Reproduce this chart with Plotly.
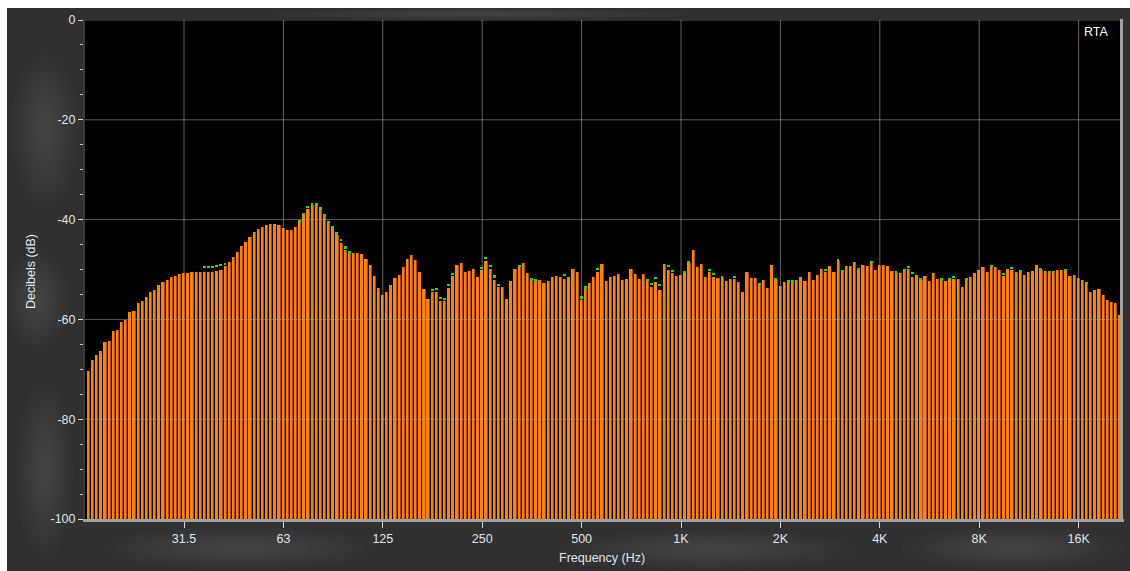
import numpy as np
import plotly.graph_objects as go

# 1/24-octave RTA levels (dB), one value per band, lowest band first (band 143 = 1 kHz)
LEVELS_DB = [
    -70.3, -68.1, -67.2, -66.3, -64.5, -64.3, -62.3, -62.1, -60.6, -60.1,
    -58.6, -58.4, -56.8, -56.4, -55.6, -54.6, -54.2, -53.1, -52.6, -52.2,
    -51.6, -51.3, -50.9, -50.7, -50.7, -50.5, -50.5, -50.5, -50.5, -50.5,
    -50.4, -50.3, -50.0, -49.3, -48.4, -47.5, -46.4, -45.3, -44.4, -43.4,
    -42.5, -41.8, -41.4, -41.1, -40.9, -40.9, -41.1, -41.6, -42.1, -42.1,
    -41.4, -40.4, -39.0, -37.8, -37.1, -37.1, -37.8, -39.0, -40.4, -41.7,
    -43.0, -44.6, -46.0, -46.6, -46.7, -46.7, -46.9, -47.8, -49.1, -51.3,
    -53.7, -55.2, -54.6, -53.1, -51.8, -51.1, -49.5, -47.8, -47.1, -48.0,
    -50.4, -54.0, -55.9, -54.6, -54.6, -56.3, -56.3, -53.7, -51.3, -49.0,
    -48.7, -50.4, -50.2, -49.8, -51.6, -50.0, -48.2, -49.8, -52.2, -53.5,
    -53.5, -55.9, -52.4, -49.8, -49.2, -48.7, -50.8, -52.0, -52.2, -52.2,
    -52.8, -52.4, -51.6, -51.3, -51.5, -52.0, -52.0, -49.8, -50.4, -56.1,
    -53.7, -52.8, -51.6, -50.6, -48.9, -52.4, -51.6, -51.3, -50.9, -52.2,
    -52.0, -49.8, -50.9, -52.0, -50.9, -52.4, -53.5, -52.6, -54.2, -48.9,
    -50.0, -50.8, -51.3, -51.1, -50.4, -48.6, -46.0, -49.5, -48.9, -51.5,
    -50.6, -51.5, -51.8, -51.5, -52.4, -52.0, -52.0, -52.6, -54.6, -50.4,
    -51.8, -51.8, -53.1, -52.2, -53.8, -49.1, -52.2, -53.3, -52.6, -52.8,
    -52.6, -52.2, -51.6, -52.4, -50.4, -52.2, -51.1, -49.8, -50.4, -49.3,
    -50.6, -48.2, -50.4, -49.3, -49.3, -48.4, -50.0, -49.1, -49.3, -48.6,
    -50.0, -49.1, -49.1, -49.3, -50.2, -50.8, -50.8, -50.0, -49.8, -51.5,
    -51.1, -52.2, -51.3, -52.4, -50.8, -52.0, -51.8, -52.4, -52.0, -52.0,
    -52.0, -53.5, -52.0, -51.5, -50.8, -50.0, -49.5, -50.4, -49.3, -49.5,
    -50.0, -51.3, -49.8, -50.0, -50.6, -50.4, -51.1, -50.6, -50.2, -49.1,
    -50.0, -50.2, -50.4, -50.2, -50.0, -50.0, -50.2, -51.3, -51.1, -51.8,
    -52.2, -52.9, -54.6, -54.2, -54.0, -55.1, -56.2, -56.6, -56.8, -59.1,
]

# Peak-hold markers: band index and held level (dB)
PEAK_BANDS = [
    28, 29, 30, 31, 32, 33,
    51, 52, 53, 54, 55, 56, 57, 58, 59, 60, 61, 62, 63,
    83, 84, 85, 86, 87, 88,
    95, 96, 97, 98, 99, 104, 107, 108, 115, 116, 119, 120, 123,
    135, 136, 137, 138, 140, 141, 144, 145, 150, 151, 153,
    156, 162, 166, 169, 170, 178, 181, 182,
    186, 189, 195, 197, 198, 199, 201, 206, 208, 209, 212,
    218, 221, 223, 225, 230, 232, 236, 241,
]
PEAK_DB = [
    -49.3, -49.3, -49.2, -49.1, -48.9, -48.7,
    -40.0, -38.6, -37.2, -36.6, -36.7, -37.5, -38.8, -40.2, -41.3, -42.5, -43.9, -45.3, -46.3,
    -54.0, -53.7, -55.5, -55.7, -52.9, -50.7,
    -49.4, -47.4, -49.0, -51.2, -52.9, -49.0, -51.7, -51.9, -51.0, -51.5, -55.4, -53.4, -49.7,
    -52.0, -52.8, -51.6, -52.9, -49.0, -50.1, -50.2, -48.2, -49.9, -50.8, -51.3,
    -51.3, -52.8, -51.8, -52.2, -52.2, -49.8, -47.8, -50.1,
    -49.6, -48.2, -50.2, -49.8, -49.3, -50.6, -51.8, -51.7, -51.7, -51.3, -51.7,
    -49.1, -50.7, -49.5, -50.0, -49.6, -50.2, -49.8, -52.6,
]

TICK_FREQS = [31.25, 62.5, 125, 250, 500, 1000, 2000, 4000, 8000, 16000]
TICK_LABELS = ["31.5", "63", "125", "250", "500", "1K", "2K", "4K", "8K", "16K"]
DB_TICKS = [0, -20, -40, -60, -80, -100]
DB_LABELS = ["0", "-20", "-40", "-60", "-80", "-100"]
DB_FLOOR = -100

# band centre frequencies, 1/24 octave apart, 1 kHz at band 143
BAND_1K = 143
n_bands = len(LEVELS_DB)
freqs = 1000.0 * 2.0 ** ((np.arange(n_bands) - BAND_1K) / 24.0)
oct_x = np.log2(freqs / 1000.0)           # x axis: octaves relative to 1 kHz
tick_x = np.log2(np.array(TICK_FREQS) / 1000.0)

levels = np.array(LEVELS_DB)
pitch = 1.0 / 24.0

W, H = 1130, 571
ML, MR, MT, MB = 85, 10, 20, 52
PW, PH = W - ML - MR, H - MT - MB
PX_PER_OCT = 99.4
X1K_PX = 681


def px(xp):   # page x pixel -> paper
    return (xp - ML) / PW


def py(yp):   # page y pixel -> paper
    return (H - MB - yp) / PH


fig = go.Figure()

# darker right edge of each bar
fig.add_trace(go.Bar(
    x=oct_x, y=levels - DB_FLOOR, base=DB_FLOOR,
    width=0.76 * pitch, offset=-0.45 * pitch,
    marker=dict(color="#a44c00", line=dict(width=0)),
    hoverinfo="skip", showlegend=False,
))
# main orange body
fig.add_trace(go.Bar(
    x=oct_x, y=levels - DB_FLOOR, base=DB_FLOOR,
    width=0.56 * pitch, offset=-0.45 * pitch,
    marker=dict(color="#ff8200", line=dict(width=0)),
    hovertemplate="%{x}<extra></extra>", showlegend=False,
))
# peak-hold dashes
peak_x = (np.array(PEAK_BANDS) - BAND_1K) / 24.0
fig.add_trace(go.Bar(
    x=peak_x, y=[0.4] * len(PEAK_DB), base=np.array(PEAK_DB) - 0.4,
    width=0.7 * pitch, offset=-0.45 * pitch,
    marker=dict(color="#19e019", line=dict(width=0)),
    hoverinfo="skip", showlegend=False,
))

shapes = []
# frame strips and mottled backdrop
shapes.append(dict(type="rect", xref="paper", yref="paper", x0=px(0), x1=px(W), y0=py(8), y1=py(0),
                   fillcolor="white", line=dict(width=0), layer="below"))
shapes.append(dict(type="rect", xref="paper", yref="paper", x0=px(0), x1=px(7), y0=py(H), y1=py(0),
                   fillcolor="white", line=dict(width=0), layer="below"))
blobs = [
    (10, 50, 80, 210), (5, 250, 70, 350), (15, 380, 75, 560),
    (100, 525, 380, 571), (560, 528, 860, 571), (900, 525, 1125, 571),
    (260, 8, 700, 20),
]
for x0, y0, x1, y1 in blobs:
    cx, cy = (x0 + x1) / 2, (y0 + y1) / 2
    for k in range(9):
        s = 1.0 - 0.1 * k
        hw, hh = (x1 - x0) / 2 * s, (y1 - y0) / 2 * s
        shapes.append(dict(type="circle", xref="paper", yref="paper",
                           x0=px(cx - hw), x1=px(cx + hw), y0=py(cy + hh), y1=py(cy - hh),
                           fillcolor="rgba(190,190,190,0.016)", line=dict(width=0), layer="below"))
shapes.append(dict(type="rect", xref="paper", yref="paper", x0=0, x1=1, y0=0, y1=1,
                   fillcolor="black", line=dict(width=0), layer="below"))

# grid drawn over the bars
for tx in tick_x:
    shapes.append(dict(type="line", xref="x", yref="paper", x0=tx, x1=tx, y0=0, y1=1,
                       line=dict(color="rgba(165,165,165,0.6)", width=1), layer="above"))
for dv in DB_TICKS[:-1]:
    shapes.append(dict(type="line", xref="paper", yref="y", x0=0, x1=1, y0=dv, y1=dv,
                       line=dict(color="rgba(165,165,165,0.55)", width=1), layer="above"))

# plot frame: dark left edge, light right/bottom edges
shapes.append(dict(type="line", xref="paper", yref="paper", x0=px(84), x1=px(84), y0=py(522), y1=py(19),
                   line=dict(color="#3a3a3a", width=2), layer="above"))
shapes.append(dict(type="line", xref="paper", yref="paper", x0=px(83), x1=px(1124), y0=py(520.5), y1=py(520.5),
                   line=dict(color="#a2a2a2", width=3), layer="above"))
shapes.append(dict(type="line", xref="paper", yref="paper", x0=px(1121.5), x1=px(1121.5), y0=py(522), y1=py(19),
                   line=dict(color="#a2a2a2", width=3), layer="above"))

font_family = "Liberation Sans, Arial, sans-serif"
label_color = "#dfe6ef"

fig.update_layout(
    width=W, height=H,
    autosize=False,
    margin=dict(l=ML, r=MR, t=MT, b=MB, pad=0, autoexpand=False),
    paper_bgcolor="#303030",
    plot_bgcolor="black",
    barmode="overlay",
    bargap=0,
    shapes=shapes,
    font=dict(family=font_family, color=label_color, size=12),
    xaxis=dict(
        range=[-(X1K_PX - ML) / PX_PER_OCT, (W - MR - X1K_PX) / PX_PER_OCT],
        tickmode="array", tickvals=tick_x, ticktext=TICK_LABELS,
        ticks="outside", ticklen=8, tickwidth=1, tickcolor="#d8d8d8",
        tickfont=dict(size=12.5, color=label_color),
        showgrid=False, zeroline=False, showline=False, automargin=False,
        fixedrange=True,
    ),
    yaxis=dict(
        range=[-100, 0],
        tickmode="array", tickvals=DB_TICKS, ticktext=DB_LABELS,
        ticks="outside", ticklen=6, tickwidth=1, tickcolor="#d8d8d8",
        tickfont=dict(size=12.5, color=label_color),
        minor=dict(tickmode="linear", tick0=0, dtick=5, ticks="outside", ticklen=4,
                   tickcolor="#c8c8c8", showgrid=False),
        showgrid=False, zeroline=False, showline=False, automargin=False,
        fixedrange=True,
    ),
    annotations=[
        dict(text="RTA", xref="paper", yref="paper", x=px(1111), y=py(32),
             xanchor="right", yanchor="middle", showarrow=False,
             font=dict(size=12.5, color="white", family=font_family)),
        dict(text="Frequency (Hz)", xref="paper", yref="paper", x=px(602), y=py(558),
             xanchor="center", yanchor="middle", showarrow=False,
             font=dict(size=12.5, color=label_color, family=font_family)),
        dict(text="Decibels (dB)", xref="paper", yref="paper", x=px(31), y=py(272),
             xanchor="center", yanchor="middle", showarrow=False, textangle=-90,
             font=dict(size=12.5, color=label_color, family=font_family)),
    ],
)

fig.write_html("out.html", include_plotlyjs=True, config={"displayModeBar": False})
